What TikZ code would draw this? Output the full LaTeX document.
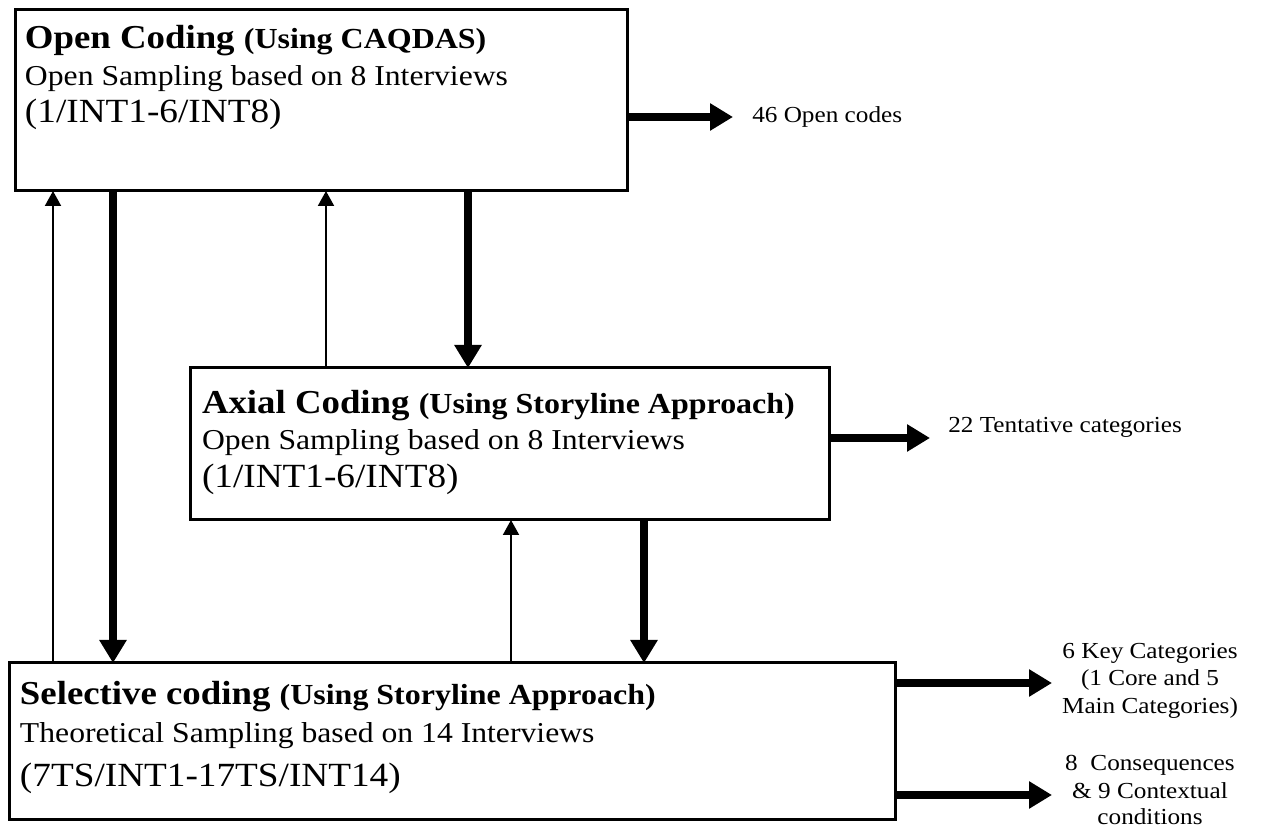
\documentclass[tikz,border=0pt]{standalone}
\usepackage{fontspec}
\setmainfont{Liberation Serif}[FakeStretch=1.1]
\usetikzlibrary{arrows.meta}
\begin{document}
\begin{tikzpicture}[x=0.75pt,y=-0.75pt,
  stage/.style={draw, line width=2.25pt, inner sep=0pt, outer sep=0pt, anchor=north west},
  txt/.style={anchor=base west, inner sep=0pt, outer sep=0pt},
  heading/.style={txt, font=\fontsize{25.1}{30}\selectfont\bfseries},
  sampling/.style={txt, font=\fontsize{21.6}{26}\selectfont},
  codes/.style={txt, font=\fontsize{25.4}{30}\selectfont},
  result/.style={anchor=base, inner sep=0pt, font=\fontsize{17.2}{20.6}\selectfont},
  resultleft/.style={result, anchor=base west},
  feedback/.style={line width=1.5pt, -{Triangle[length=11.25pt, width=12pt]}},
  flow/.style={line width=6pt, -{Triangle[length=17.25pt, width=19.5pt]}}
]
\useasboundingbox (0,0) rectangle (1265,837);

% coding stages
\node[stage, minimum width=459pt, minimum height=135.75pt] (b1) at (15,10) {};
\node[stage, minimum width=479.25pt, minimum height=114pt] (b2) at (190,368) {};
\node[stage, minimum width=664.5pt, minimum height=117.75pt] (b3) at (9,663) {};

% open coding text
\node[heading] (b1h) at (25,49) {Open Coding {\fontsize{21.8}{26}\selectfont (Using CAQDAS)}};
\node[sampling] (b1s) at (25,86) {Open Sampling based on 8 Interviews};
\node[codes] (b1c) at (25,123) {(1/INT1-6/INT8)};

% axial coding text
\node[heading] (b2h) at (202,414) {Axial Coding {\fontsize{21.8}{26}\selectfont (Using Storyline Approach)}};
\node[sampling] (b2s) at (202,450) {Open Sampling based on 8 Interviews};
\node[codes] (b2c) at (202,488) {(1/INT1-6/INT8)};

% selective coding text
\node[heading] (b3h) at (20,705) {Selective coding {\fontsize{21.8}{26}\selectfont (Using Storyline Approach)}};
\node[sampling] (b3s) at (20,743) {Theoretical Sampling based on 14 Interviews};
\node[codes] (b3c) at (20,787) {(7TS/INT1-17TS/INT14)};

% columns of the vertical connectors
\coordinate (ca) at (53,0);
\coordinate (cb) at (113,0);
\coordinate (cc) at (326,0);
\coordinate (cd) at (468,0);
\coordinate (ce) at (511,0);
\coordinate (cf) at (644,0);

\draw[feedback] (b3.north -| ca) -- (b1.south -| ca);
\draw[flow]     (b1.south -| cb) -- (b3.north -| cb);
\draw[feedback] (b2.north -| cc) -- (b1.south -| cc);
\draw[flow]     (b1.south -| cd) -- (b2.north -| cd);
\draw[feedback] (b3.north -| ce) -- (b2.south -| ce);
\draw[flow]     (b2.south -| cf) -- (b3.north -| cf);

% outputs of each stage
\coordinate (o1) at (733,117);
\coordinate (o2) at (930,438);
\coordinate (o3) at (1052,683);
\coordinate (o4) at (1052,795);

\draw[flow] (b1.east |- o1) -- (o1);
\draw[flow] (b2.east |- o2) -- (o2);
\draw[flow] (b3.east |- o3) -- (o3);
\draw[flow] (b3.east |- o4) -- (o4);

\node[resultleft] (r1) at (752,123) {46 Open codes};
\node[resultleft] (r2) at (948,433) {22 Tentative categories};

\node[result] (k1) at (1150,659) {6 Key Categories};
\node[result] (k2) at (1150,686) {(1 Core and 5};
\node[result] (k3) at (1150,714) {Main Categories)};

\node[result] (m1) at (1150,771) {8~~Consequences};
\node[result] (m2) at (1150,798) {\&~9 Contextual};
\node[result] (m3) at (1150,825) {conditions};
\end{tikzpicture}
\end{document}
